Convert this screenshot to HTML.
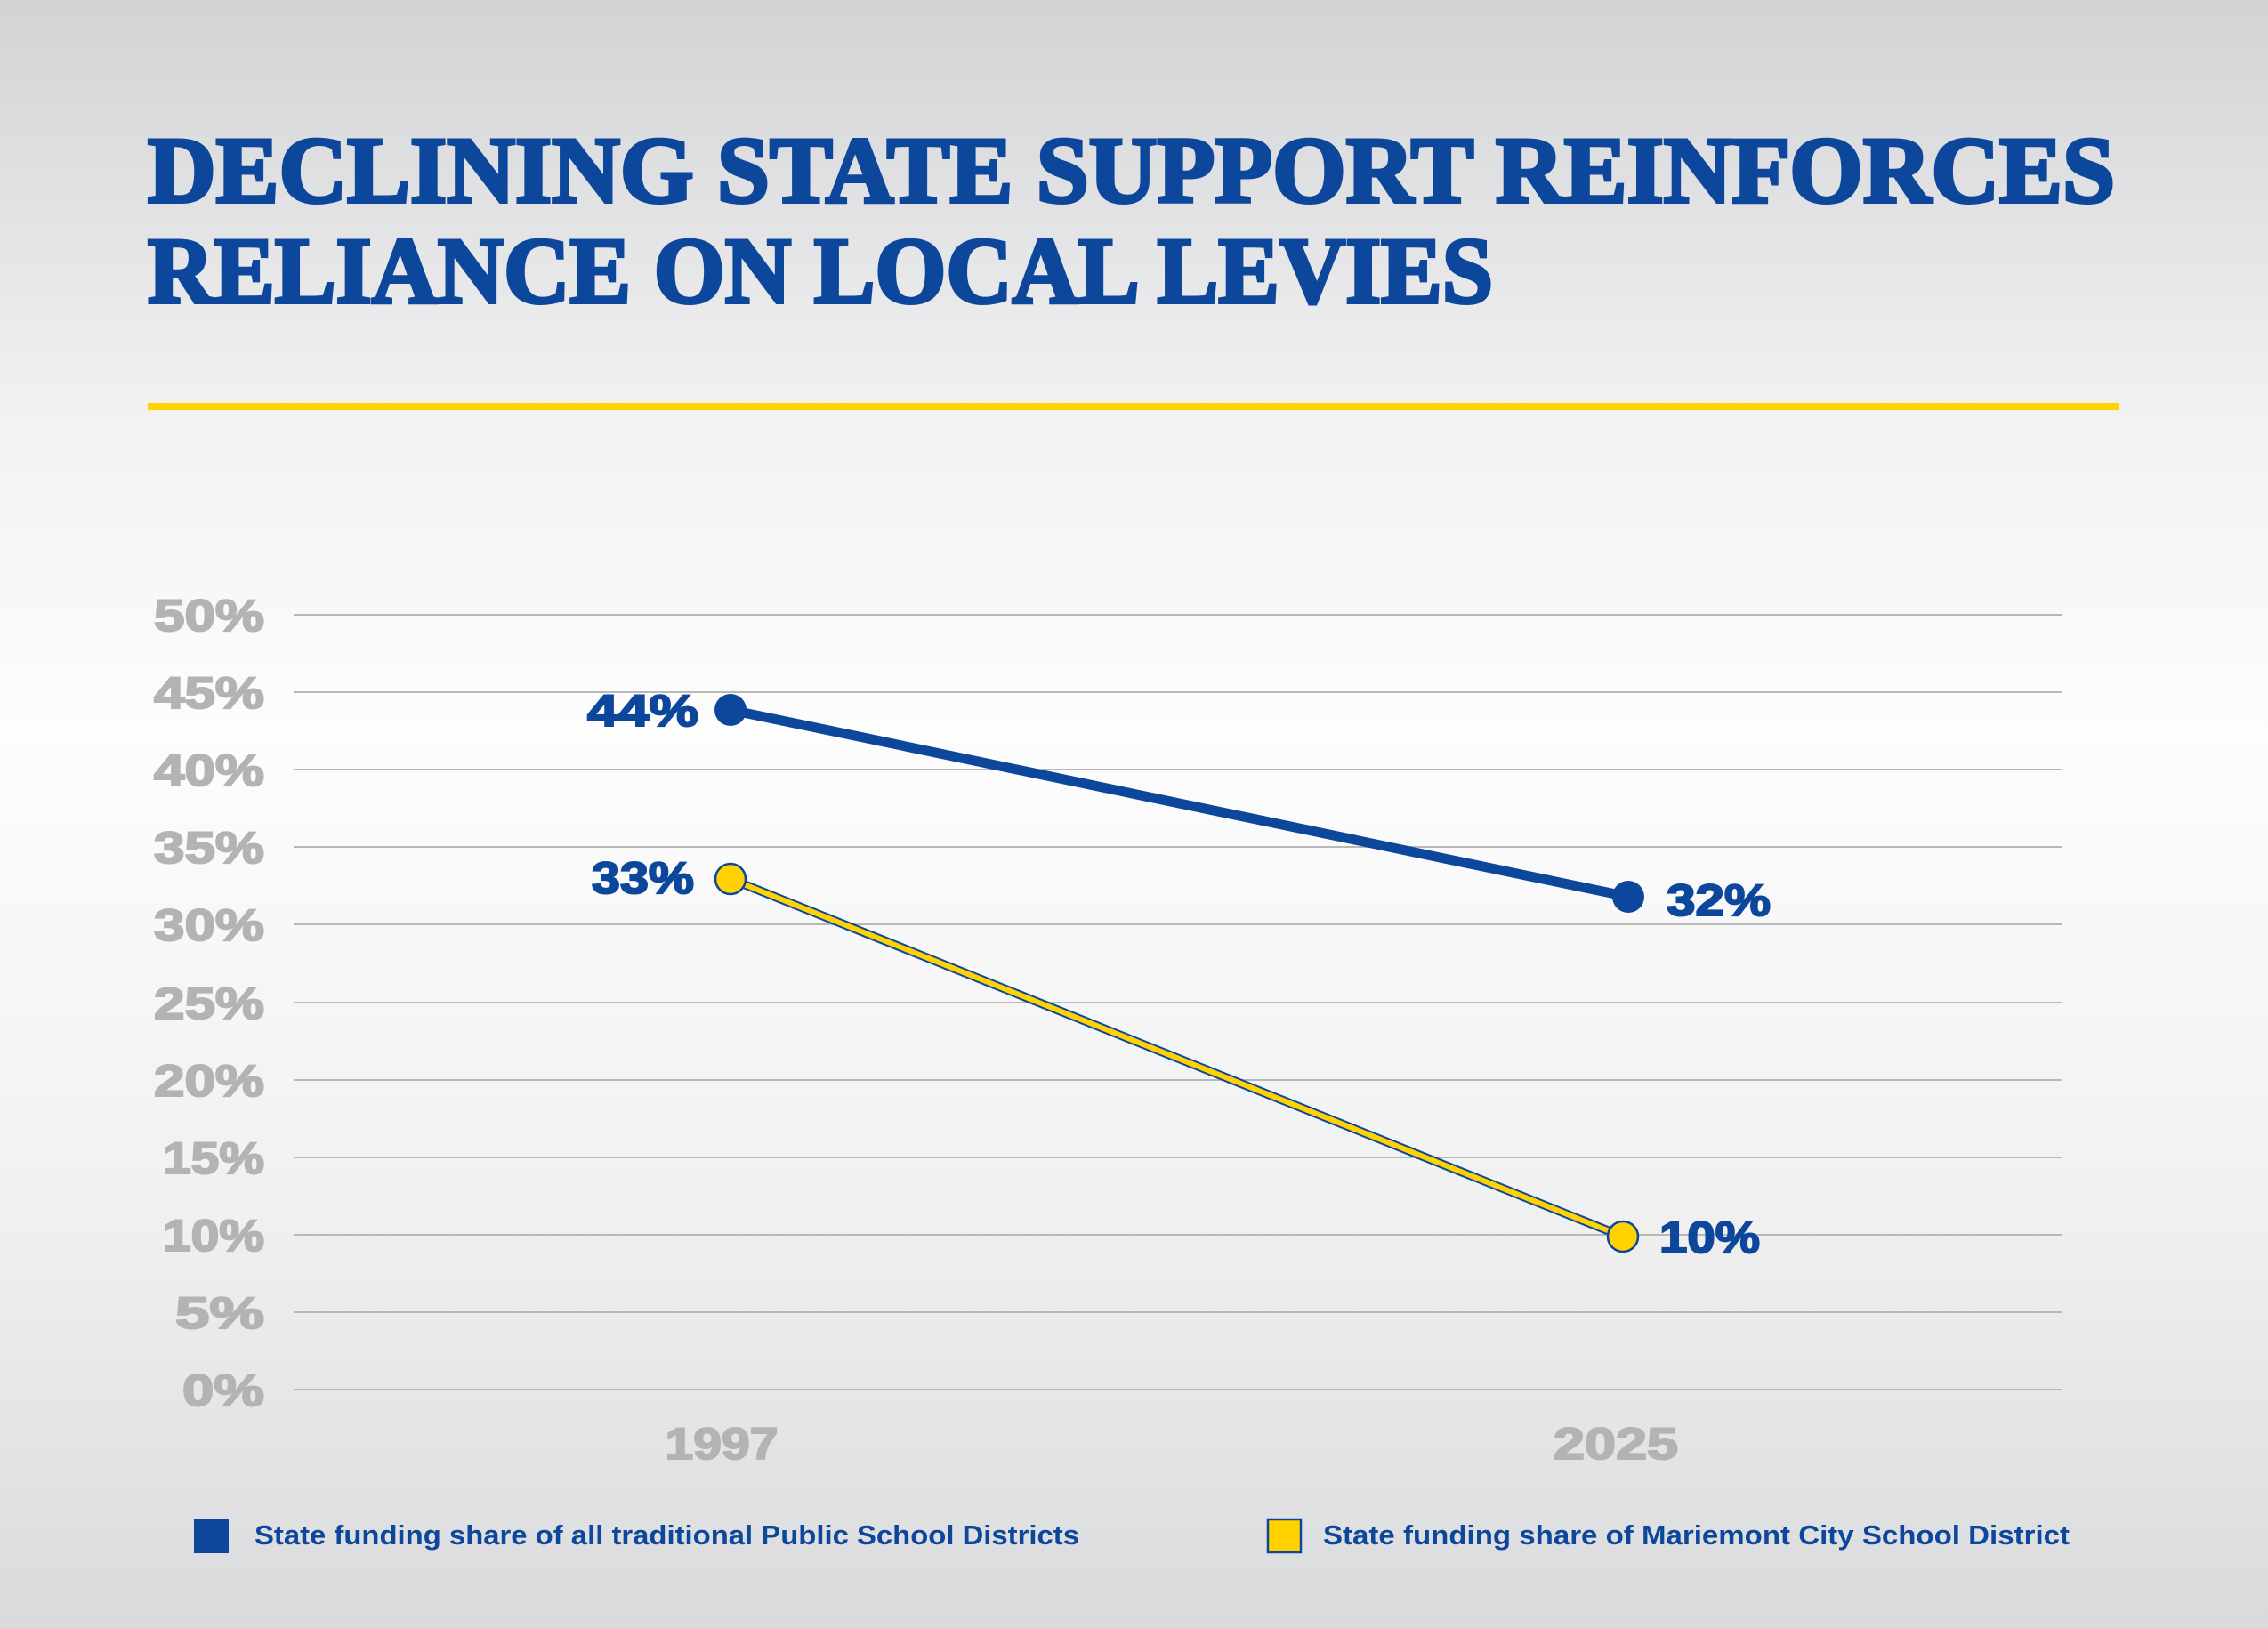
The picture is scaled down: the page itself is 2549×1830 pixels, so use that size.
<!DOCTYPE html>
<html><head><meta charset="utf-8"><style>
html,body{margin:0;padding:0;width:2549px;height:1830px;overflow:hidden}
svg{display:block}
</style></head><body>
<svg width="2549" height="1830" viewBox="0 0 2549 1830" xmlns="http://www.w3.org/2000/svg">
<defs>
<linearGradient id="bg" x1="0" y1="0" x2="0" y2="1">
<stop offset="0" stop-color="#d2d3d5"/>
<stop offset="0.25" stop-color="#f1f1f2"/>
<stop offset="0.45" stop-color="#fdfdfd"/>
<stop offset="0.75" stop-color="#f0f0f1"/>
<stop offset="1" stop-color="#d9dadc"/>
</linearGradient>
</defs>
<rect width="2549" height="1830" fill="url(#bg)"/>
<g font-family="'Liberation Serif',serif" font-weight="bold" fill="#0d479c" stroke="#0d479c" stroke-width="4" font-size="106">
<text x="166" y="227" textLength="2211" lengthAdjust="spacingAndGlyphs">DECLINING STATE SUPPORT REINFORCES</text>
<text x="166" y="340" textLength="1512" lengthAdjust="spacingAndGlyphs">RELIANCE ON LOCAL LEVIES</text>
</g>
<rect x="166" y="453" width="2216" height="8" fill="#ffd200"/>
<g stroke="#b8b8b8" stroke-width="2">
<line x1="330" x2="2318" y1="691" y2="691"/><line x1="330" x2="2318" y1="778" y2="778"/>
<line x1="330" x2="2318" y1="865" y2="865"/><line x1="330" x2="2318" y1="952" y2="952"/>
<line x1="330" x2="2318" y1="1039" y2="1039"/><line x1="330" x2="2318" y1="1127" y2="1127"/>
<line x1="330" x2="2318" y1="1214" y2="1214"/><line x1="330" x2="2318" y1="1301" y2="1301"/>
<line x1="330" x2="2318" y1="1388" y2="1388"/><line x1="330" x2="2318" y1="1475" y2="1475"/>
<line x1="330" x2="2318" y1="1562" y2="1562"/>
</g>
<g font-family="'Liberation Sans',sans-serif" font-weight="bold" fill="#b3b3b3" stroke="#b3b3b3" stroke-width="2" font-size="50" text-anchor="end">
<text x="297" y="709" textLength="124" lengthAdjust="spacingAndGlyphs">50%</text>
<text x="297" y="796" textLength="124" lengthAdjust="spacingAndGlyphs">45%</text>
<text x="297" y="883" textLength="124" lengthAdjust="spacingAndGlyphs">40%</text>
<text x="297" y="970" textLength="124" lengthAdjust="spacingAndGlyphs">35%</text>
<text x="297" y="1057" textLength="124" lengthAdjust="spacingAndGlyphs">30%</text>
<text x="297" y="1145" textLength="124" lengthAdjust="spacingAndGlyphs">25%</text>
<text x="297" y="1232" textLength="124" lengthAdjust="spacingAndGlyphs">20%</text>
<text x="297" y="1319" textLength="114" lengthAdjust="spacingAndGlyphs">15%</text>
<text x="297" y="1406" textLength="114" lengthAdjust="spacingAndGlyphs">10%</text>
<text x="297" y="1493" textLength="100" lengthAdjust="spacingAndGlyphs">5%</text>
<text x="297" y="1580" textLength="92" lengthAdjust="spacingAndGlyphs">0%</text>
<text x="811" y="1640" text-anchor="middle" textLength="127" lengthAdjust="spacingAndGlyphs">1997</text>
<text x="1816" y="1640" text-anchor="middle" textLength="140" lengthAdjust="spacingAndGlyphs">2025</text>
</g>
<line x1="821" y1="798" x2="1830" y2="1008" stroke="#0d479c" stroke-width="11"/>
<circle cx="821" cy="798" r="18" fill="#0d479c"/>
<circle cx="1830" cy="1008" r="18" fill="#0d479c"/>
<line x1="821" y1="988" x2="1824" y2="1390" stroke="#0d479c" stroke-width="10"/>
<line x1="821" y1="988" x2="1824" y2="1390" stroke="#ffd200" stroke-width="6"/>
<circle cx="821" cy="988" r="17" fill="#ffd200" stroke="#0d479c" stroke-width="2.5"/>
<circle cx="1824" cy="1390" r="17" fill="#ffd200" stroke="#0d479c" stroke-width="2.5"/>
<g font-family="'Liberation Sans',sans-serif" font-weight="bold" fill="#0d479c" stroke="#0d479c" stroke-width="2" font-size="50">
<text x="660" y="816" textLength="125" lengthAdjust="spacingAndGlyphs">44%</text>
<text x="665" y="1004" textLength="115" lengthAdjust="spacingAndGlyphs">33%</text>
<text x="1873" y="1029" textLength="117" lengthAdjust="spacingAndGlyphs">32%</text>
<text x="1865" y="1408" textLength="113" lengthAdjust="spacingAndGlyphs">10%</text>
</g>
<rect x="218" y="1707" width="39" height="39" fill="#0d479c"/>
<rect x="1425" y="1708" width="37" height="37" fill="#ffd200" stroke="#0d479c" stroke-width="2.5"/>
<g font-family="'Liberation Sans',sans-serif" font-weight="bold" fill="#0d479c" font-size="31">
<text x="286" y="1736" textLength="927" lengthAdjust="spacingAndGlyphs">State funding share of all traditional Public School Districts</text>
<text x="1487" y="1736" textLength="839" lengthAdjust="spacingAndGlyphs">State funding share of Mariemont City School District</text>
</g>
</svg>
</body></html>
